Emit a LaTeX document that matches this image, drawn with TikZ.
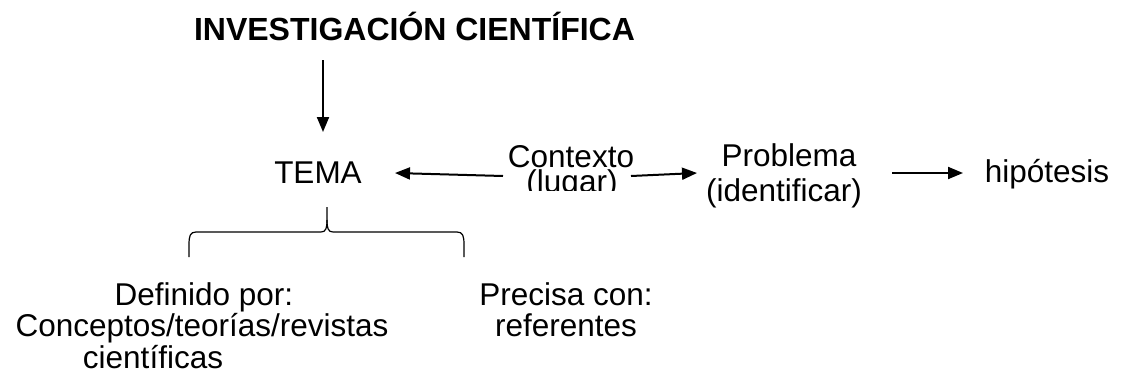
\documentclass[tikz,border=0pt]{standalone}
\usepackage{fontspec}
\setmainfont{Liberation Sans}
\usetikzlibrary{arrows.meta}
\tikzset{
  lbl/.style={inner sep=0pt, anchor=base, font=\fontsize{31.5}{36}\selectfont},
  ttl/.style={lbl, font=\fontsize{32}{36}\selectfont\bfseries},
  arr/.style={line width=2pt, -{Triangle[length=15pt,width=12pt]}},
  brace/.style={line width=1.2pt}
}
\begin{document}
\begin{tikzpicture}[x=1pt,y=-1pt]
\useasboundingbox (0,0) rectangle (1124,380);
\node[ttl] (title) at (414.5,40) {INVESTIGACIÓN CIENTÍFICA};
\node[lbl] (tema) at (318,183) {TEMA};
\node[lbl] (contexto) at (571,167) {Contexto};
\begin{scope}
  \clip (500,140) rectangle (650,190.5);
  \node[lbl] (lugar) at (572,192) {(lugar)};
\end{scope}
\node[lbl] (problema) at (789,166) {Problema};
\node[lbl] (identificar) at (784,201) {(identificar)};
\node[lbl] (hipotesis) at (1047,182) {hipótesis};
\node[lbl] (definido) at (204,305) {Definido por:};
\node[lbl] (conceptos) at (202,336) {Conceptos/teorías/revistas};
\node[lbl] (cientificas) at (153,368) {científicas};
\node[lbl] (precisa) at (566,305) {Precisa con:};
\node[lbl] (referentes) at (566,336) {referentes};

\coordinate (d1) at (323,60);
\coordinate (d2) at (323,132);
\coordinate (c1) at (503,176);
\coordinate (c2) at (395,173);
\coordinate (p1) at (631,176);
\coordinate (p2) at (697,173);
\coordinate (h1) at (892,173);
\coordinate (h2) at (963,173);
\draw[arr] (d1) -- (d2);
\draw[arr] (c1) -- (c2);
\draw[arr] (p1) -- (p2);
\draw[arr] (h1) -- (h2);

\draw[brace] (189,257) -- (189,245) .. controls (189,236) and (190,232) .. (196,232)
  -- (321,232) .. controls (326,232) and (327,228) .. (327,220) -- (327,207);
\draw[brace] (327,220) .. controls (327,228) and (328,232) .. (333,232)
  -- (457,232) .. controls (463,232) and (464,236) .. (464,245) -- (464,257);
\end{tikzpicture}
\end{document}
